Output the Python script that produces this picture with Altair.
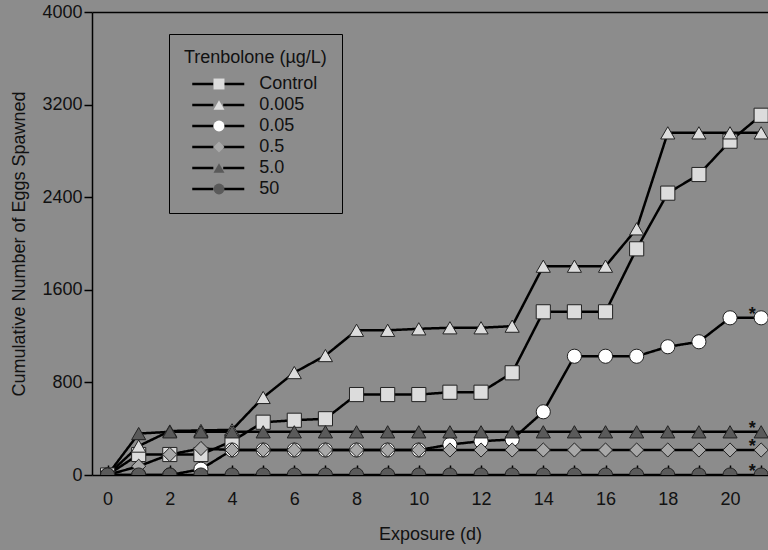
import altair as alt
import pandas as pd

days = list(range(0, 22))
series_names = ["Control", "0.005", "0.05", "0.5", "5.0", "50"]

control = [0, 177, 177, 177, 292, 456, 473, 486, 695, 695, 695, 715, 715, 883,
           1410, 1410, 1410, 1954, 2435, 2596, 2884, 3108]
t_0005 = [0, 250, 380, 385, 390, 670, 885, 1032, 1250, 1250, 1263, 1272, 1272, 1286,
          1804, 1804, 1804, 2127, 2956, 2956, 2956, 2956]
t_005 = [0, 0, 0, 50, 216, 216, 216, 216, 216, 216, 216, 263, 292, 307,
         546, 1026, 1026, 1026, 1108, 1151, 1358, 1358]
t_05 = [0, 76, 177, 229, 216, 216, 216, 216, 216, 216, 216, 216, 216, 216,
        216, 216, 216, 216, 216, 216, 216, 216]
t_5 = [0, 358, 373, 373, 373, 373, 373, 373, 373, 373, 373, 373, 373, 373,
       373, 373, 373, 373, 373, 373, 373, 373]
t_50 = [0] * 22

all_series = [control, t_0005, t_005, t_05, t_5, t_50]
significant = ["0.05", "0.5", "5.0", "50"]

shapes = ["square", "triangle-up", "circle", "diamond", "triangle-up", "circle"]
fills = ["#dcdcdc", "#dcdcdc", "#ffffff", "#a8a8a8", "#5a5a5a", "#5a5a5a"]

rows = []
for name, vals in zip(series_names, all_series):
    for d, v in zip(days, vals):
        rows.append({"day": d, "eggs": v, "series": name, "line_series": name,
                     "sig": name in significant})
df = pd.DataFrame(rows)

FONT = "Liberation Sans"
TITLE = "Trenbolone (\u00b5g/L)"

x_enc = alt.X(
    "day:Q",
    scale=alt.Scale(domain=[-0.5, 21.22], nice=False, zero=False),
    axis=alt.Axis(
        title="Exposure (d)", values=days,
        labelExpr="datum.value % 2 == 0 ? datum.value : ''",
        tickSize=10, offset=-10, domain=False, grid=False,
        tickColor="black", tickWidth=1.5, labelPadding=15,
        labelFontSize=18, titleFontSize=18, titleFontWeight="normal",
        labelColor="#111", titleColor="#111", titlePadding=17,
    ),
)
y_enc = alt.Y(
    "eggs:Q",
    scale=alt.Scale(domain=[0, 4000], nice=False),
    axis=alt.Axis(
        title="Cumulative Number of Eggs Spawned",
        values=[0, 800, 1600, 2400, 3200, 4000], format="d",
        tickSize=8, tickColor="black", tickWidth=1.5,
        domainColor="black", domainWidth=1.5,
        grid=True, gridColor="black", gridWidth=1.5,
        gridOpacity={"condition": {"test": "datum.value === 0 || datum.value === 4000", "value": 1}, "value": 0},
        labelPadding=2, labelFontSize=18, titleFontSize=18, titleFontWeight="normal",
        labelColor="#111", titleColor="#111", titlePadding=13,
    ),
)

base = alt.Chart(df).encode(x=x_enc, y=y_enc)

legend_common = dict(
    title=TITLE, orient="none", legendX=77, legendY=22, padding=15,
    symbolSize=120, labelFontSize=18, titleFontSize=18, titleFontWeight="normal",
    rowPadding=3, titlePadding=8, labelFont=FONT, titleFont=FONT,
)

line_legend = alt.Legend(
    strokeColor="black", symbolType="M-4.75,0H-0.9M0.9,0H4.75",
    symbolStrokeWidth=2.5, symbolStrokeColor="black", symbolOffset=25.27,
    labelOffset=32, labelColor="#111", titleColor="#111", **legend_common,
)
point_legend = alt.Legend(
    symbolStrokeWidth=1, symbolStrokeColor="#222", symbolOffset=26.0,
    labelOffset=32, labelExpr="' '", titleOpacity=0, **legend_common,
)

lines = base.mark_line(color="black", strokeWidth=2.5, clip=True).encode(
    strokeDash=alt.StrokeDash(
        "line_series:N", sort=series_names,
        scale=alt.Scale(range=[[1, 0]] * 6), legend=line_legend,
    ),
)

points = base.mark_point(filled=True, size=200, stroke="#222", strokeWidth=1,
                         opacity=1, clip=True).encode(
    shape=alt.Shape("series:N", sort=series_names,
                    scale=alt.Scale(domain=series_names, range=shapes), legend=point_legend),
    fill=alt.Fill("series:N", sort=series_names,
                  scale=alt.Scale(domain=series_names, range=fills), legend=point_legend),
)

stars = base.mark_text(text="*", fontSize=18, fontWeight="bold", font=FONT, color="#111",
                       dx=-9, dy=-3, baseline="middle").transform_filter(
    "datum.sig && datum.day == 21"
)

chart = alt.layer(lines, points, stars).properties(
    width=676, height=463,
    autosize=alt.AutoSizeParams(type="none"),
    padding={"left": 92, "top": 12, "right": 0, "bottom": 75},
    background="#8c8c8c",
).configure_view(stroke=None).configure(font=FONT)

chart.save("out.html", embed_options={"renderer": "svg", "actions": False})
